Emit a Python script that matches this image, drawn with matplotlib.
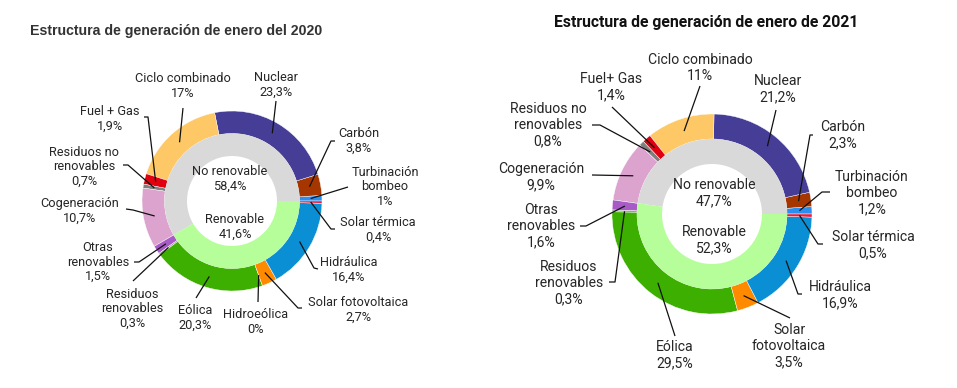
import numpy as np
import matplotlib
matplotlib.use("Agg")
import matplotlib.pyplot as plt

W, H = 957, 388

# ---------------- data ----------------
names_2020 = ['Turbinación\nbombeo', 'Carbón', 'Nuclear', 'Ciclo combinado', 'Fuel + Gas',
              'Residuos no\nrenovables', 'Cogeneración', 'Otras\nrenovables', 'Residuos\nrenovables',
              'Eólica', 'Hidroeólica', 'Solar fotovoltaica', 'Hidráulica', 'Solar térmica']
values_2020 = [1.0, 3.8, 23.3, 17.0, 1.9, 0.7, 10.7, 1.5, 0.3, 20.3, 0.0, 2.7, 16.4, 0.4]

names_2021 = ['Turbinación\nbombeo', 'Carbón', 'Nuclear', 'Ciclo combinado', 'Fuel+ Gas',
              'Residuos no\nrenovables', 'Cogeneración', 'Otras\nrenovables', 'Residuos\nrenovables',
              'Eólica', 'Solar\nfotovoltaica', 'Hidráulica', 'Solar térmica']
values_2021 = [1.2, 2.3, 21.2, 11.0, 1.4, 0.8, 9.9, 1.6, 0.3, 29.5, 3.5, 16.9, 0.5]

inner_names = ['No renovable', 'Renovable']
inner_2020 = [58.4, 41.6]
inner_2021 = [47.7, 52.3]

title_2020 = 'Estructura de generación de enero del 2020'
title_2021 = 'Estructura de generación de enero de 2021'

# ---------------- styles ----------------
color_map = {
    'Turbinación': '#2b8ff0', 'Carbón': '#a63600', 'Nuclear': '#463e96',
    'Ciclo': '#fdc865', 'Fuel': '#e0000f', 'Residuos no': '#7f7f7f',
    'Cogeneración': '#dca3cf', 'Otras': '#a85bc6', 'Residuos\n': '#9a9a9a',
    'Eólica': '#3daf00', 'Hidroeólica': '#1f6fb0', 'Solar f': '#ff8a00',
    'Solar\nf': '#ff8a00', 'Hidráulica': '#0a8fd5', 'Solar t': '#e3213f',
}
inner_colors = ['#d9d9d9', '#b6fe9a']


def col(name):
    for k, c in color_map.items():
        if name.startswith(k):
            return c
    return '#888888'


def pct(v):
    if abs(v - round(v)) < 1e-9:
        return '%d%%' % round(v)
    return ('%.1f%%' % v).replace('.', ',')


# label layout (pixel coords: text centre, line start, optional elbow)
layout_2020 = [
    ((385, 187), (348, 187), None),
    ((359, 141), (335, 141), (331, 141)),
    ((276, 85), (276, 101), None),
    ((183, 86), (183, 108), None),
    ((110, 119), (144, 117), (148, 117)),
    ((84, 167), (123, 165), (128, 165)),
    ((80, 211), (126, 209), (133, 210)),
    ((98, 262), (134, 262), (139, 262)),
    ((132, 309), (133, 281), None),
    ((195, 318), (196, 298), None),
    ((256, 322), (258, 302), None),
    ((358, 310), (302, 308), (298, 308)),
    ((349, 270), (318, 269), (314, 268)),
    ((378, 230), (335, 229), (331, 229)),
]
layout_2021 = [
    ((872, 193), (830, 192), (822, 192)),
    ((843, 135), (813, 135), (810, 135)),
    ((778, 89), (776, 110), None),
    ((700, 68), (700, 86), None),
    ((611, 87), (612, 107), None),
    ((548, 125), (592, 125), (600, 125)),
    ((541, 177), (592, 175), None),
    ((541, 226), (580, 226), (586, 226)),
    ((569, 283), (609, 282), (615, 282)),
    ((675, 355), (675, 336), None),
    ((789, 346), (790, 318), None),
    ((840, 295), (802, 294), (798, 294)),
    ((873, 245), (823, 244), (818, 244)),
]

FONT = ['Roboto', 'DejaVu Sans']
TXT = '#262626'

fig = plt.figure(figsize=(W / 100, H / 100), dpi=100)
ax = fig.add_axes([0, 0, 1, 1])


def Y(y):
    return H - y


def donut(cx, cy, r_out, r_mid, r_in, names, values, inner_vals, layout, fs, ls, inner_pos):
    c = (cx, Y(cy))
    ax.pie(values, colors=[col(n) for n in names], radius=r_out, center=c,
           startangle=0, counterclock=True,
           wedgeprops=dict(width=r_out - r_mid, edgecolor='white', linewidth=0.3))
    ax.pie(inner_vals, colors=inner_colors, radius=r_mid, center=c,
           startangle=0, counterclock=True,
           wedgeprops=dict(width=r_mid - r_in, edgecolor='none'))
    total = float(sum(values))
    cum = np.cumsum([0] + list(values))[:-1]
    rmid_ring = (r_out + r_mid) / 2
    for name, v, c0, (tpos, start, elbow) in zip(names, values, cum, layout):
        ang = np.deg2rad((c0 + v / 2) / total * 360)
        ex, ey = cx + rmid_ring * np.cos(ang), Y(cy) + rmid_ring * np.sin(ang)
        xs = [start[0]]
        ys = [Y(start[1])]
        if elbow is not None:
            xs.append(elbow[0]); ys.append(Y(elbow[1]))
        xs.append(ex); ys.append(ey)
        ax.plot(xs, ys, color='#111111', lw=0.9, solid_capstyle='butt')
        ax.text(tpos[0], Y(tpos[1]), name + '\n' + pct(v), ha='center', va='center',
                fontsize=fs, family=FONT, color=TXT, linespacing=ls)
    # inner labels
    for nm, v, (px, py) in zip(inner_names, inner_vals, inner_pos):
        ax.text(px, Y(py), nm + '\n' + pct(v), ha='center', va='center',
                fontsize=fs, family=FONT, color=TXT, linespacing=ls)


donut(232, 201, 90, 67.5, 45, names_2020, values_2020, inner_2020, layout_2020, 9.2, 1.13,
      [(230, 179), (235, 227)])
donut(712, 214, 100, 75, 50, names_2021, values_2021, inner_2021, layout_2021, 10.1, 1.18,
      [(714, 193), (714, 240)])

ax.text(30, Y(31), title_2020, ha='left', va='center', fontsize=10.2, fontweight='bold',
        family=['Liberation Sans', 'DejaVu Sans'], color='#333333')
ax.text(706, Y(23), title_2021, ha='center', va='center', fontsize=11.3, fontweight='bold',
        family=FONT, color='#111111')

ax.set_xlim(0, W)
ax.set_ylim(0, H)
ax.set_aspect('auto')
ax.axis('off')

fig.savefig('out.png', dpi=100, facecolor='white')
